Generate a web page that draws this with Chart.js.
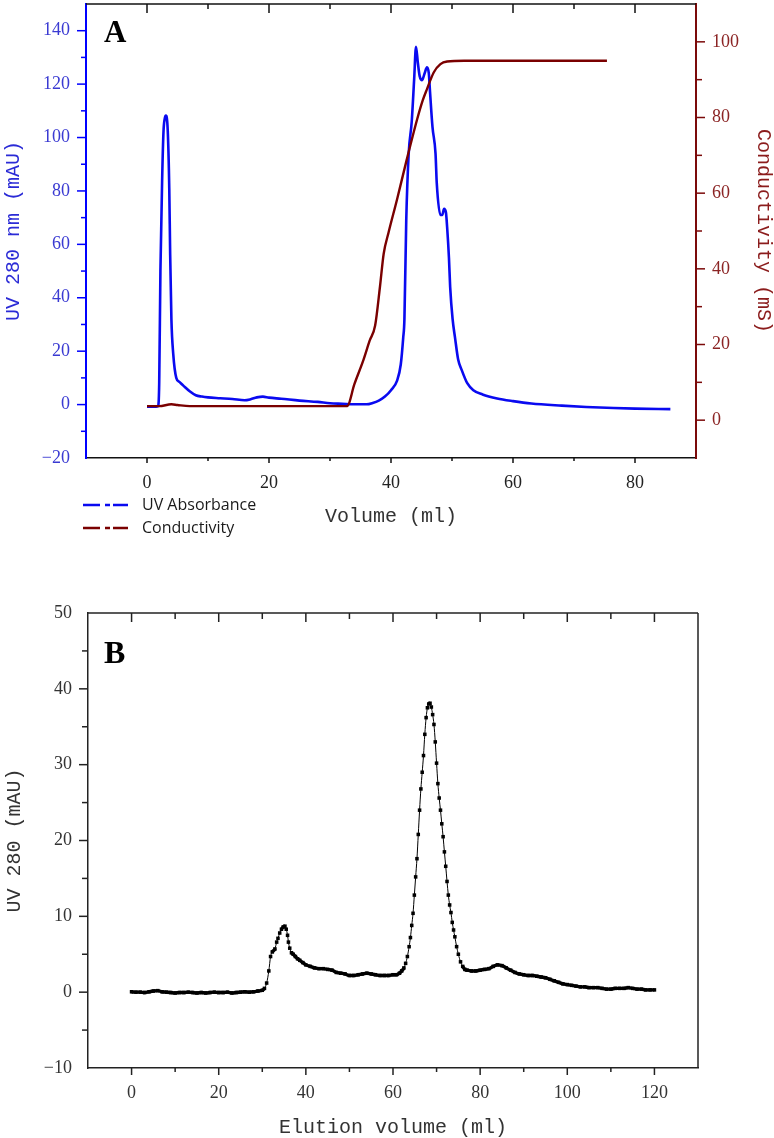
<!DOCTYPE html>
<html><head><meta charset="utf-8">
<script src="https://cdn.jsdelivr.net/npm/chart.js@4.4.1/dist/chart.umd.min.js"></script>
<style>
html,body{margin:0;padding:0;background:#fff;}
#wrapA{position:absolute;left:0;top:0;width:774px;height:560px;}
#wrapB{position:absolute;left:0;top:560px;width:774px;height:578px;}
</style></head><body>
<div id="wrapA"><canvas id="chartA" width="774" height="560"></canvas></div>
<div id="wrapB"><canvas id="chartB" width="774" height="578"></canvas></div>
<script>
// ---------- Panel A data ----------
const uvVolume = [0,1,1.8,2.0,2.2,2.5,2.7,2.9,3.1,3.4,3.65,3.8,4.0,4.3,4.8,5.3,6.0,7.0,8.0,9.0,10,12,14,16,17,18,19,20,22,25,28,30,32,34,36,37,38,39,40,41,41.6,42.0,42.2,42.5,42.9,43.4,43.8,44.1,44.4,44.7,45.1,45.5,45.9,46.2,46.4,46.8,47.3,47.5,48.1,48.4,48.7,49.0,49.2,49.5,49.7,50.1,50.5,51.0,51.6,52.5,53.5,55,57.4,60,63,68,72,76.5,80,85.8];
const uvValues = [-0.8,-0.8,-0.6,8,50,86,102,107,108.2,102.6,81,56,32,19,10,8.5,7,5,3.5,3.0,2.7,2.4,2.1,1.6,2.0,2.7,3.0,2.6,2.2,1.5,1.0,0.5,0.3,0.1,0.1,0.6,1.5,3,5.4,9,15,25,32,69,94,106,122,134,128,123,121.5,124,126.3,124,117,104,94,83,71,71,73.3,72,66.5,55,44,32,25,17,12.9,8,5.4,3.8,2.3,1.3,0.4,-0.4,-0.9,-1.3,-1.5,-1.7];
const condVolume = [0,2,4,5,7,10,20,30,32.8,34,35.5,36.5,37.4,38.2,38.8,39.6,41,42.6,44.3,45.2,45.9,47,48.1,49.2,52,60,70,75.4];
const condValues = [3.7,3.7,4.2,4.0,3.7,3.7,3.7,3.7,3.7,9.5,16,21,25,35.4,44,49.6,58.4,69,79.6,84.5,87.5,91.9,94.1,94.8,95,95,95,95];
const legendLabelsA = ['UV Absorbance','Conductivity'];

// ---------- Panel B data ----------
const bVolume = [
 0,1,2,3,4,5,6,7,8,9,10,11,12,13,14,15,16,17,18,19,20,21,22,23,24,25,26,27,28,29,
 30,30.5,31,31.5,31.9,32.3,32.9,33.3,33.6,34.0,34.4,34.8,35.2,35.5,35.8,36.0,36.3,36.7,37.1,37.6,38.1,38.6,39.3,
 40,41,42,43,44,45,46,47,48,49,50,51,52,53,54,55,56,57,58,59,60,
 60.8,61.5,62,62.5,62.9,63.3,63.7,64.0,64.3,64.6,64.9,65.2,65.5,65.8,66.1,66.4,66.7,67.0,67.3,67.6,67.9,68.2,68.5,68.8,69.1,69.4,69.7,70.0,70.3,70.6,70.9,71.2,71.5,71.8,72.1,72.4,72.7,73.0,73.3,73.6,73.9,74.2,74.6,75.0,75.5,76.0,76.5,
 77,78,79,80,81,82,83,84,85,86,87,88,89,90,91,92,93,94,95,96,97,98,99,100,101,102,103,104,105,106,107,108,109,110,111,112,113,114,115,116,117,118,119,120];
const bUV = [
 0.05,0.0,0.0,-0.05,0.05,0.15,0.2,0.05,0.0,-0.05,-0.1,-0.05,-0.05,0.0,-0.05,-0.1,-0.05,-0.1,-0.05,0.0,-0.05,-0.05,0.0,-0.1,-0.05,0.0,0.05,0.0,0.05,0.15,
 0.25,0.5,1.2,2.8,4.7,5.3,5.7,6.6,7.1,7.8,8.3,8.6,8.7,8.3,7.5,6.6,5.8,5.2,5.0,4.7,4.4,4.2,3.9,
 3.6,3.4,3.2,3.1,3.1,3.0,2.9,2.6,2.5,2.4,2.2,2.2,2.3,2.4,2.5,2.4,2.3,2.2,2.2,2.2,2.3,
 2.3,2.5,2.8,3.2,3.8,4.7,6.0,7.2,8.8,10.4,12.8,15.2,17.6,20.8,24.0,26.8,29.0,31.2,34.0,36.2,37.5,38.0,38.1,37.6,36.6,35.3,33.0,30.2,27.5,25.6,24.0,22.2,20.5,18.5,16.6,14.6,12.8,11.5,10.5,9.2,8.2,7.3,6.0,5.0,4.0,3.4,3.0,
 2.9,2.8,2.8,2.9,3.0,3.1,3.4,3.6,3.5,3.2,2.9,2.6,2.4,2.3,2.2,2.2,2.1,2.0,1.9,1.7,1.5,1.3,1.1,1.0,0.9,0.8,0.7,0.7,0.6,0.6,0.6,0.5,0.4,0.4,0.5,0.5,0.5,0.6,0.5,0.4,0.4,0.3,0.3,0.3];

// ---------- styling ----------
const serif = '"Liberation Serif", "Times New Roman", serif';
const mono = '"Liberation Mono", "Courier New", monospace';
const BLUE = '#0a0af0';
const DARKRED = '#7a0000';

function fmt(v){ return v < 0 ? '\u2212' + Math.abs(v) : String(v); }
function lbl(step, lo, hi){
  return function(v){
    v = Number(v);
    const isStep = Math.abs(Math.round(v/step)*step - v) < 1e-6;
    return (isStep && v >= lo - 1e-6 && v <= hi + 1e-6) ? fmt(Math.round(v)) : '';
  };
}
function toXY(xs, ys){ return xs.map((x,i)=>({x:x, y:ys[i]})); }
function fixV(w){ return (s)=>{ s.width = w; s.paddingTop = 0; s.paddingBottom = 0; }; }
function fixH(h){ return (s)=>{ s.height = h; s.paddingLeft = 0; s.paddingRight = 0; }; }

function decorPlugin(cfg){
  return {
    id: 'decor',
    afterDraw(chart){
      const ctx = chart.ctx, a = chart.chartArea;
      ctx.save();
      (cfg.frame||[]).forEach(f=>{
        ctx.strokeStyle = f.color; ctx.lineWidth = f.width; ctx.beginPath();
        if (f.edge==='top'){ ctx.moveTo(a.left, a.top); ctx.lineTo(a.right, a.top); }
        if (f.edge==='right'){ ctx.moveTo(a.right, a.top); ctx.lineTo(a.right, a.bottom); }
        ctx.stroke();
      });
      (cfg.ticks||[]).forEach(sp=>{
        const sc = chart.scales[sp.scale];
        ctx.strokeStyle = sp.color; ctx.lineWidth = sp.width || 1.5;
        for (let i = 0; ; i++){
          const v = sc.min + i*sp.minor;
          if (v > sc.max + 1e-6) break;
          if (Math.abs(v-sc.min) < 1e-6 || Math.abs(v-sc.max) < 1e-6) continue;
          const major = Math.abs(Math.round(v/sp.major)*sp.major - v) < 1e-6;
          const len = major ? sp.majorLen : sp.minorLen;
          const p = sc.getPixelForValue(v);
          ctx.beginPath();
          if (sp.edge==='top'){ ctx.moveTo(p, a.top); ctx.lineTo(p, a.top+len); }
          if (sp.edge==='bottom'){ ctx.moveTo(p, a.bottom); ctx.lineTo(p, a.bottom+len); }
          if (sp.edge==='left'){ ctx.moveTo(a.left, p); ctx.lineTo(a.left-len, p); }
          if (sp.edge==='right'){ ctx.moveTo(a.right, p); ctx.lineTo(a.right+len, p); }
          ctx.stroke();
        }
      });
      if (cfg.letter){
        ctx.fillStyle = '#000';
        ctx.font = 'bold ' + cfg.letter.size + 'px ' + serif;
        ctx.textBaseline = 'alphabetic'; ctx.textAlign = 'left';
        ctx.fillText(cfg.letter.text, cfg.letter.x, cfg.letter.y);
      }
      if (cfg.legend){
        const L = cfg.legend;
        chart.data.datasets.forEach((ds, i)=>{
          const y = L.y + i*L.gap;
          ctx.strokeStyle = ds.borderColor; ctx.lineWidth = 2.6; ctx.lineCap = 'butt';
          ctx.beginPath();
          ctx.moveTo(L.x, y); ctx.lineTo(L.x+17, y);
          ctx.moveTo(L.x+22, y); ctx.lineTo(L.x+27, y);
          ctx.moveTo(L.x+30, y); ctx.lineTo(L.x+45, y);
          ctx.stroke();
          ctx.fillStyle = '#1a1a1a';
          ctx.font = '16px "Open Sans", sans-serif';
          ctx.textBaseline = 'middle'; ctx.textAlign = 'left';
          ctx.fillText(ds.label, L.x + 59, y);
        });
      }
      ctx.restore();
    }
  };
}

const hiddenGrid = (len)=>({display:true, drawOnChartArea:false, drawTicks:true, tickLength:len, tickColor:'rgba(0,0,0,0)'});

// ---------- Chart A ----------
new Chart(document.getElementById('chartA'), {
  type: 'line',
  data: {
    datasets: [
      {label: legendLabelsA[0], data: toXY(uvVolume, uvValues), yAxisID:'y', borderColor: BLUE, borderWidth: 2.6, pointRadius: 0, cubicInterpolationMode:'monotone', order: 1},
      {label: legendLabelsA[1], data: toXY(condVolume, condValues), yAxisID:'y1', borderColor: DARKRED, borderWidth: 2.4, pointRadius: 0, cubicInterpolationMode:'monotone', order: 0}
    ]
  },
  options: {
    responsive:false, animation:false, devicePixelRatio:1,
    layout:{padding:{top:4, left:0, right:0, bottom:0}},
    plugins:{legend:{display:false}, tooltip:{enabled:false}},
    scales:{
      x:{type:'linear', min:-10, max:90,
        ticks:{stepSize:10, autoSkip:false, maxRotation:0, padding:9, color:'#222', font:{family:serif, size:18}, callback: lbl(20,0,80)},
        grid: hiddenGrid(5),
        border:{display:true, color:'#111', width:1.5},
        title:{display:true, text:'Volume (ml)', color:'#333', font:{family:mono, size:20, lineHeight:1.2}, padding:{top:0, bottom:31}},
        afterFit: fixH(102)
      },
      y:{type:'linear', position:'left', min:-20, max:150,
        ticks:{stepSize:10, autoSkip:false, padding:7, color:'#3a3ad2', font:{family:serif, size:18}, callback: lbl(20,-20,140)},
        grid: hiddenGrid(9),
        border:{display:true, color:'#0000ff', width:2},
        title:{display:true, text:'UV 280 nm (mAU)', color:'#2b2bd6', font:{family:mono, size:20, lineHeight:1.2}, padding:{top:2, bottom:0}},
        afterFit: fixV(86)
      },
      y1:{type:'linear', position:'right', min:-10, max:110,
        ticks:{stepSize:10, autoSkip:false, padding:7, color:'#8b2424', font:{family:serif, size:18}, callback: lbl(20,0,100)},
        grid: hiddenGrid(9),
        border:{display:true, color:'#7b0a0a', width:2},
        title:{display:true, text:'Conductivity (mS)', color:'#8b1c1c', font:{family:mono, size:20, lineHeight:1.1}, padding:{top:0, bottom:0}},
        afterFit: fixV(78)
      }
    }
  },
  plugins:[decorPlugin({
    frame:[{edge:'top', color:'#111', width:1.5}],
    ticks:[
      {scale:'x', edge:'top', minor:10, major:20, majorLen:9, minorLen:5, color:'#111'},
      {scale:'x', edge:'bottom', minor:10, major:20, majorLen:5, minorLen:3, color:'#111'},
      {scale:'y', edge:'left', minor:10, major:20, majorLen:9, minorLen:5, color:'#0000ff'},
      {scale:'y1', edge:'right', minor:10, major:20, majorLen:9, minorLen:6, color:'#7b0a0a'}
    ],
    letter:{text:'A', x:104, y:42, size:31},
    legend:{x:83, y:505, gap:23}
  })]
});

// ---------- Chart B ----------
new Chart(document.getElementById('chartB'), {
  type: 'line',
  data: {
    datasets: [
      {label:'UV 280', data: toXY(bVolume, bUV), borderColor:'#000', borderWidth:1,
       segment:{ borderWidth: (c)=>{ const dx = Math.abs(c.p1.x - c.p0.x), dy = Math.abs(c.p1.y - c.p0.y); return dy > 1.5*dx ? 1 : 3.4; } },
       pointStyle:'rect', pointRadius:2.5, pointBorderWidth:0, pointBackgroundColor:'#000', cubicInterpolationMode:'monotone'}
    ]
  },
  options: {
    responsive:false, animation:false, devicePixelRatio:1,
    layout:{padding:{top:53, left:0, right:76, bottom:0}},
    plugins:{legend:{display:false}, tooltip:{enabled:false}},
    scales:{
      x:{type:'linear', min:-10, max:130,
        ticks:{stepSize:10, autoSkip:false, maxRotation:0, padding:9, color:'#333', font:{family:serif, size:18}, callback: lbl(20,0,120)},
        grid: hiddenGrid(5),
        border:{display:true, color:'#222', width:1.5},
        title:{display:true, text:'Elution volume (ml)', color:'#333', font:{family:mono, size:20, lineHeight:1.0}, padding:{top:0, bottom:0}},
        afterFit: fixH(70)
      },
      y:{type:'linear', position:'left', min:-10, max:50,
        ticks:{stepSize:5, autoSkip:false, padding:7, color:'#333', font:{family:serif, size:18}, callback: lbl(10,-10,50)},
        grid: hiddenGrid(9),
        border:{display:true, color:'#222', width:1.5},
        title:{display:true, text:'UV 280 (mAU)', color:'#333', font:{family:mono, size:20, lineHeight:1.2}, padding:{top:3, bottom:0}},
        afterFit: fixV(88)
      }
    }
  },
  plugins:[decorPlugin({
    frame:[{edge:'top', color:'#222', width:1.5},{edge:'right', color:'#222', width:1.5}],
    ticks:[
      {scale:'x', edge:'top', minor:10, major:20, majorLen:9, minorLen:6, color:'#222'},
      {scale:'x', edge:'bottom', minor:10, major:20, majorLen:7, minorLen:4, color:'#222'},
      {scale:'y', edge:'left', minor:5, major:10, majorLen:9, minorLen:6, color:'#222'}
    ],
    letter:{text:'B', x:104, y:103, size:32}
  })]
});
</script>
</body></html>
